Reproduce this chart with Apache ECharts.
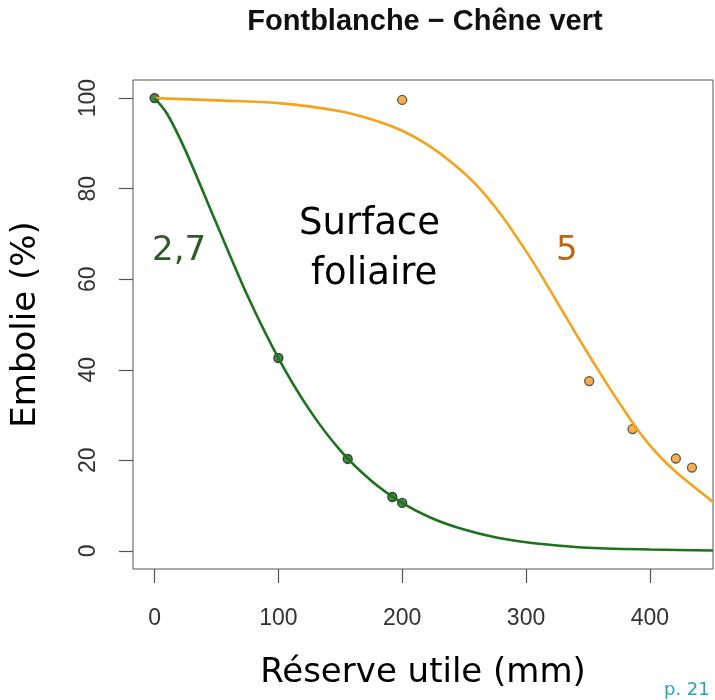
<!DOCTYPE html>
<html>
<head>
<meta charset="utf-8">
<title>Fontblanche - Chêne vert</title>
<script src="https://cdn.jsdelivr.net/npm/echarts@6.0.0/dist/echarts.min.js"></script>
<style>
  html, body { margin: 0; padding: 0; background: #ffffff; }
  #chart-container { width: 715px; height: 700px; }
</style>
</head>
<body>
<div id="chart-container"></div>
<script>
// courbe verte (surface foliaire 2,7)
var greenCurveX = [0, 10, 25, 50, 75, 100, 125, 150, 175, 200, 225, 250, 275, 300, 325, 350, 400, 451];
var greenCurveY = [100, 96.6, 88.4, 72.3, 56.4, 42.6, 31.2, 22.2, 15.5, 10.6, 7.1, 4.7, 3.0, 1.9, 1.2, 0.7, 0.3, 0.1];
// courbe orange (surface foliaire 5)
var orangeCurveX = [0, 50, 100, 150, 180, 200, 220, 240, 260, 280, 300, 310, 320, 330, 340, 350, 360, 370, 380, 390, 400, 410, 420, 430, 440, 451];
var orangeCurveY = [100, 99.5, 98.9, 97.1, 94.9, 92.8, 89.8, 85.8, 80.8, 74.2, 66.2, 61.9, 57.3, 52.7, 48.1, 43.6, 39.2, 34.9, 30.8, 26.8, 23.3, 20.3, 17.7, 15.4, 13.2, 10.8];
// points mesures
var greenPointsX = [0, 100, 156, 192, 200];
var greenPointsY = [100, 42.6, 20.3, 11.9, 10.6];
var orangePointsX = [200, 351, 386, 421, 434];
var orangePointsY = [99.6, 37.5, 26.9, 20.4, 18.4];
// graduations
var xTicks = [0, 100, 200, 300, 400];
var yTicks = [0, 20, 40, 60, 80, 100];

function pairs(xs, ys) {
    return xs.map(function (x, i) { return [x, ys[i]]; });
}

var myChart = echarts.init(document.getElementById('chart-container'));

myChart.setOption({
    backgroundColor: '#ffffff',
    animation: false,
    title: {
        text: 'Fontblanche \u2212 Chêne vert',
        left: 420,
        textAlign: 'center',
        top: 2,
        textStyle: {
            fontFamily: 'Liberation Sans',
            fontWeight: 'bold',
            fontSize: 29,
            color: '#111'
        }
    },
    grid: {
        left: 133,
        right: 2,
        top: 80,
        bottom: 131,
        show: true,
        borderColor: '#555',
        borderWidth: 1
    },
    xAxis: {
        type: 'value',
        min: -17.4,
        max: 451,
        name: 'Réserve utile (mm)',
        nameLocation: 'middle',
        nameGap: 87,
        nameTextStyle: { fontFamily: 'DejaVu Sans', fontSize: 34, color: '#000' },
        axisLine: { show: false, onZero: false },
        splitLine: { show: false },
        axisTick: {
            show: true,
            length: 14,
            customValues: xTicks,
            lineStyle: { color: '#555', width: 1.2 }
        },
        axisLabel: {
            customValues: xTicks,
            margin: 38,
            fontFamily: 'Liberation Sans',
            fontSize: 23,
            color: '#333'
        }
    },
    yAxis: {
        type: 'value',
        min: -4,
        max: 104,
        name: 'Embolie (%)',
        nameLocation: 'middle',
        nameGap: 90,
        nameTextStyle: { fontFamily: 'DejaVu Sans', fontSize: 34, color: '#000' },
        axisLine: { show: false, onZero: false },
        splitLine: { show: false },
        axisTick: {
            show: true,
            length: 14,
            customValues: yTicks,
            lineStyle: { color: '#555', width: 1.2 }
        },
        axisLabel: {
            customValues: yTicks,
            rotate: 90,
            margin: 33,
            fontFamily: 'Liberation Sans',
            fontSize: 23,
            color: '#333'
        }
    },
    graphic: [
        { type: 'text', left: 299, top: 206, style: { text: 'Surface', font: '37px "DejaVu Sans"', fill: '#000' } },
        { type: 'text', left: 311, top: 256, style: { text: 'foliaire', font: '37px "DejaVu Sans"', fill: '#000' } },
        { type: 'text', left: 152, top: 234, style: { text: '2,7', font: '34px "DejaVu Sans"', fill: '#2e5a28' } },
        { type: 'text', left: 556, top: 234, style: { text: '5', font: '34px "DejaVu Sans"', fill: '#c0650f' } },
        { type: 'text', left: 664, top: 681, style: { text: 'p. 21', font: '18px "DejaVu Sans"', fill: '#25a6b8' } }
    ],
    series: [
        {
            name: 'orange',
            type: 'line',
            smooth: 0.3,
            showSymbol: false,
            data: pairs(orangeCurveX, orangeCurveY),
            lineStyle: { width: 2.6, color: '#f7a21b' }
        },
        {
            name: 'vert',
            type: 'line',
            smooth: 0.3,
            showSymbol: false,
            data: pairs(greenCurveX, greenCurveY),
            lineStyle: { width: 2.6, color: '#1b741b' }
        },
        {
            name: 'points orange',
            type: 'scatter',
            symbolSize: 9,
            data: pairs(orangePointsX, orangePointsY),
            itemStyle: { color: '#f39a1c', borderColor: '#3a3a3a', borderWidth: 1.3 }
        },
        {
            name: 'points vert',
            type: 'scatter',
            symbolSize: 9,
            data: pairs(greenPointsX, greenPointsY),
            itemStyle: { color: '#1d6a1d', borderColor: '#1a1a1a', borderWidth: 1.3 }
        }
    ]
});
</script>
</body>
</html>
